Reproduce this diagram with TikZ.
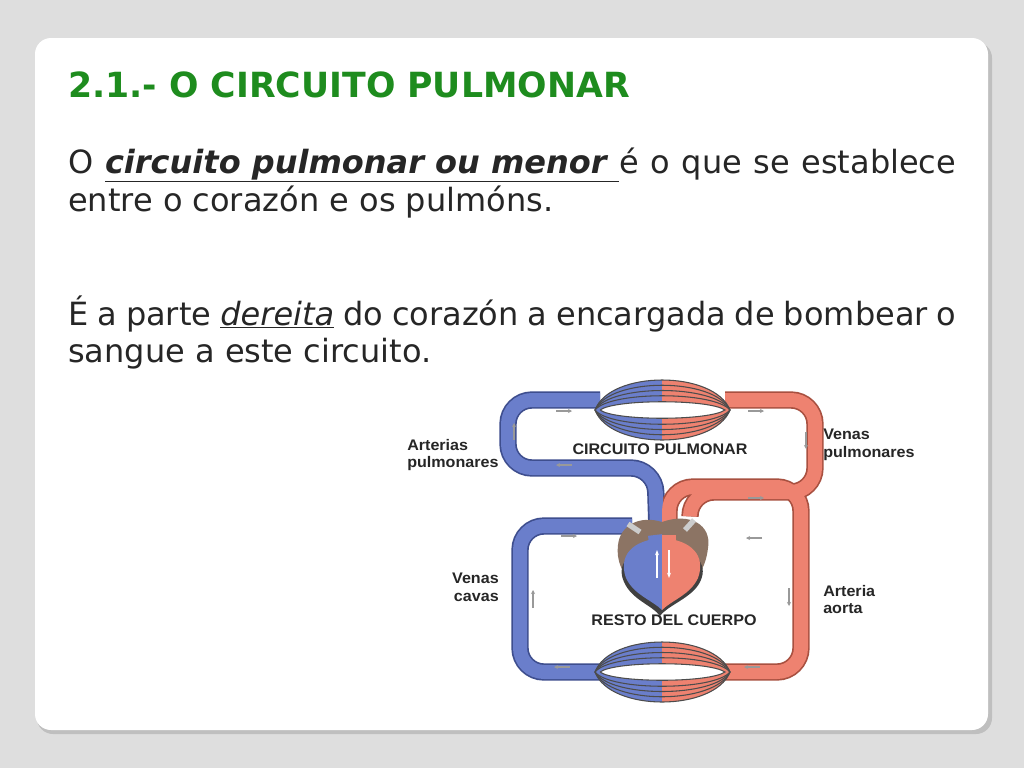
\documentclass[tikz,border=0pt]{standalone}
\usepackage{fontspec}
\setmainfont{DejaVu Sans}
\newfontfamily\lab{Liberation Sans}
\usetikzlibrary{arrows.meta}
\definecolor{bg}{HTML}{DEDEDE}
\definecolor{ttl}{HTML}{1E8C1E}
\definecolor{bl}{HTML}{6A7ECB}
\definecolor{bld}{HTML}{3E4E8E}
\definecolor{rd}{HTML}{EE8270}
\definecolor{rdd}{HTML}{A85040}
\definecolor{brn}{HTML}{8C7464}
\tikzset{
 bt/.style={line width=10.5pt,bl,rounded corners=18pt},
 bto/.style={line width=13pt,bld,rounded corners=18pt},
 rt/.style={line width=10.5pt,rd,rounded corners=18pt},
 rto/.style={line width=13pt,rdd,rounded corners=18pt},
 fl/.style={-{Stealth[length=3pt,width=3pt]},gray!80,line width=0.8pt},
 lb/.style={font=\lab\bfseries\fontsize{11.5pt}{13pt}\selectfont,align=left,inner sep=0pt,text=black!85,xscale=1.05},
 body/.style={anchor=base west,inner sep=0pt,font=\fontsize{24pt}{28pt}\selectfont,text=black!85}
}
\begin{document}
\begin{tikzpicture}[x=0.75pt,y=-0.75pt]
\useasboundingbox (0,0) rectangle (1024,768);
\fill[bg] (0,0) rectangle (1024,768);
\fill[black!25,rounded corners=12pt] (37,42) rectangle (992,734);
\fill[white,rounded corners=12pt] (35,38) rectangle (988,730);
\node[anchor=base west,inner sep=0pt,text=ttl,font=\bfseries\fontsize{26pt}{30pt}\selectfont] (title) at (68,97) {2.1.- O CIRCUITO PULMONAR};
\node[body] (l1) at (68,173) {\makebox[666pt][s]{O \underline{\textbf{\textit{circuito pulmonar ou menor }}}é o que se establece}};
\node[body] (l2) at (68,211) {entre o corazón e os pulmóns.};
\node[body] (l3) at (68,325) {\makebox[666pt][s]{É a parte \underline{\textit{dereita}} do corazón a encargada de bombear o}};
\node[body] (l4) at (68,362) {sangue a este circuito.};
% tube outlines
\draw[bto] (600,400) -- (508,400) -- (508,468) -- (655,468) -- (658,560);
\draw[bto] (600,672) -- (520,672) -- (520,526) -- (632,526);
\draw[rto] (725,400) -- (815,400) -- (815,492) -- (690,492) -- (690,515);
\draw[rto] (669,560) -- (669,487) -- (801,487) -- (801,672) -- (725,672);
% tube fills
\draw[bt] (600,400) -- (508,400) -- (508,468) -- (655,468) -- (658,560);
\draw[bt] (600,672) -- (520,672) -- (520,526) -- (632,526);
\draw[rt] (725,400) -- (815,400) -- (815,492) -- (690,492) -- (690,515);
\draw[rt] (669,560) -- (669,487) -- (801,487) -- (801,672) -- (725,672);
% lungs
\foreach \cy in {410,672} {
 \begin{scope}
  \clip (590,\cy-40) rectangle (662,\cy+40);
  \fill[bl] (595,\cy) .. controls (610,\cy-40) and (714,\cy-40) .. (730,\cy) .. controls (714,\cy+40) and (610,\cy+40) .. (595,\cy);
 \end{scope}
 \begin{scope}
  \clip (662,\cy-40) rectangle (735,\cy+40);
  \fill[rd] (595,\cy) .. controls (610,\cy-40) and (714,\cy-40) .. (730,\cy) .. controls (714,\cy+40) and (610,\cy+40) .. (595,\cy);
 \end{scope}
 \foreach \h in {40,33,26,19} {
  \draw[black!70,line width=0.8pt] (595,\cy) .. controls (610,\cy-\h) and (714,\cy-\h) .. (730,\cy);
  \draw[black!70,line width=0.8pt] (595,\cy) .. controls (610,\cy+\h) and (714,\cy+\h) .. (730,\cy);
 }
 \fill[white,draw=black!70,line width=0.8pt] (600,\cy) .. controls (615,\cy-11) and (709,\cy-11) .. (725,\cy) .. controls (709,\cy+11) and (615,\cy+11) .. (600,\cy);
}
% heart
\fill[brn] (662,522) .. controls (690,512) and (712,525) .. (708,548) .. controls (706,565) and (700,575) .. (690,585) -- (635,585) .. controls (622,575) and (616,560) .. (618,545) .. controls (620,525) and (640,515) .. (662,522) -- cycle;
\fill[black!75] (662,545) .. controls (632,548) and (615,562) .. (624,582) .. controls (632,600) and (652,605) .. (660,616) .. controls (668,605) and (692,598) .. (700,582) .. controls (710,562) and (692,548) .. (662,545);
\begin{scope}
 \clip (600,520) rectangle (662,620);
 \fill[bl] (662,538) .. controls (632,540) and (618,556) .. (626,578) .. controls (634,595) and (652,600) .. (662,610) .. controls (672,600) and (690,595) .. (698,578) .. controls (706,556) and (692,540) .. (662,538);
\end{scope}
\begin{scope}
 \clip (662,520) rectangle (720,620);
 \fill[rd] (662,538) .. controls (632,540) and (618,556) .. (626,578) .. controls (634,595) and (652,600) .. (662,610) .. controls (672,600) and (690,595) .. (698,578) .. controls (706,556) and (692,540) .. (662,538);
\end{scope}
\draw[bt] (655,535) -- (658,560);
\draw[rt] (669,535) -- (669,560);
\draw[gray!40,line width=4pt] (628,524) -- (640,532);
\draw[gray!40,line width=4pt] (694,520) -- (685,530);
\draw[-{Stealth[length=4pt]},white,line width=1.5pt] (657,578) -- (657,550);
\draw[-{Stealth[length=4pt]},white,line width=1.5pt] (669,550) -- (669,578);
% flow arrows
\foreach \x/\y in {556/411,748/411,748/498,561/536} \draw[fl] (\x,\y) -- (\x+16,\y);
\foreach \x/\y in {572/465,762/538,570/667,760/667} \draw[fl] (\x,\y) -- (\x-16,\y);
\draw[fl] (514,440) -- (514,423);
\draw[fl] (533,608) -- (533,590);
\draw[fl] (806,432) -- (806,449);
\draw[fl] (789,588) -- (789,606);
% labels
\node[lb,anchor=north west] (ap) at (407,439) {Arterias\\pulmonares};
\node[lb,anchor=north west] (vp) at (823,429) {Venas\\pulmonares};
\node[lb,anchor=north east,align=right] (vc) at (499,573) {Venas\\cavas};
\node[lb,anchor=north west] (aa) at (823,585) {Arteria\\aorta};
\node[lb] (cp) at (660,449) {CIRCUITO PULMONAR};
\node[lb] (rc) at (674,620) {RESTO DEL CUERPO};
\end{tikzpicture}
\end{document}
